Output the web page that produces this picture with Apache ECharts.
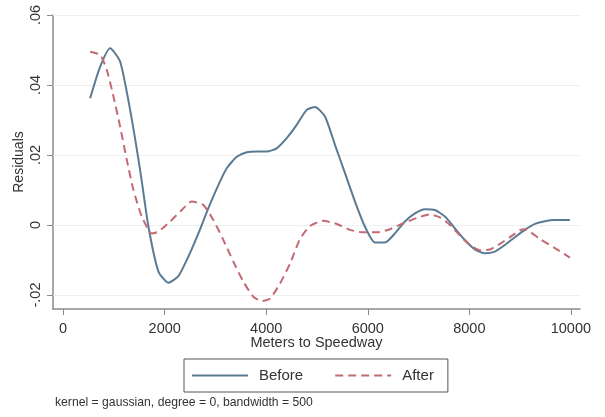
<!DOCTYPE html>
<html>
<head>
<meta charset="utf-8">
<script src="https://cdn.jsdelivr.net/npm/echarts@6/dist/echarts.min.js"></script>
<style>
html,body{margin:0;padding:0;background:#fff;}
#chart{width:605px;height:417px;}
</style>
</head>
<body>
<div id="chart"></div>
<script>
// Data (meters to speedway, residuals)
var beforeX = [531,728,925,1122,1319,1516,1680,1877,2073,2270,2467,2664,2860,3057,3222,3419,3616,3812,4009,4206,4403,4600,4797,4961,5157,5354,5551,5748,5945,6142,6339,6535,6732,6929,7126,7323,7520,7717,7913,8110,8307,8504,8701,8898,9094,9291,9488,9685,9980];
var beforeY = [0.0362,0.0452,0.0505,0.0467,0.0329,0.0157,-0.0005,-0.0133,-0.0165,-0.0146,-0.0090,-0.0024,0.0048,0.0114,0.0162,0.0195,0.0208,0.0210,0.0210,0.0219,0.0248,0.0286,0.0329,0.0337,0.0310,0.0229,0.0148,0.0067,-0.0005,-0.0050,-0.0050,-0.0024,0.0010,0.0033,0.0045,0.0043,0.0024,-0.0010,-0.0043,-0.0070,-0.0081,-0.0076,-0.0057,-0.0035,-0.0014,0.0003,0.0011,0.0014,0.0014];
var afterX = [531,728,860,991,1122,1254,1385,1549,1746,1877,2106,2336,2533,2762,2959,3156,3353,3550,3746,3911,4075,4272,4469,4665,4862,5124,5388,5650,5911,6175,6437,6699,6963,7224,7421,7618,7815,8012,8209,8406,8602,8799,8996,9094,9390,9685,9980];
var afterY = [0.0495,0.0486,0.0443,0.0367,0.0281,0.0186,0.0100,0.0024,-0.0024,-0.0019,0.0010,0.0043,0.0067,0.0057,0.0014,-0.0043,-0.0105,-0.0162,-0.0205,-0.0217,-0.0210,-0.0167,-0.0110,-0.0040,-0.0003,0.0012,0.0003,-0.0014,-0.0021,-0.0021,-0.0012,0.0005,0.0020,0.0030,0.0022,0.0000,-0.0030,-0.0057,-0.0072,-0.0070,-0.0054,-0.0035,-0.0015,-0.0012,-0.0040,-0.0066,-0.0093];
var xTicks = [0,2000,4000,6000,8000,10000];
var yTicks = [-0.02,0,0.02,0.04,0.06];
var seriesNames = ['Before','After'];
var xTitle = 'Meters to Speedway';
var yTitle = 'Residuals';
var note = 'kernel = gaussian, degree = 0, bandwidth = 500';

function zip(a,b){ return a.map(function(v,i){ return [v,b[i]]; }); }
function fmtY(v){
  if (Math.abs(v) < 1e-9) return '0';
  var s = v.toFixed(2);
  return s.replace('0.', '.');
}
var FONT = 'Liberation Sans';
var chart = echarts.init(document.getElementById('chart'));
chart.setOption({
  animation: false,
  backgroundColor: '#fff',
  textStyle: {fontFamily: FONT},
  grid: {left: 53, right: 25, top: 15, bottom: 108},
  xAxis: {
    type: 'value', min: -200, max: 10180,
    name: xTitle, nameLocation: 'middle', nameGap: 26, nameMoveOverlap: false,
    nameTextStyle: {fontFamily: FONT, fontSize: 14.5, color: '#333'},
    axisLine: {show: true, onZero: false, lineStyle: {color: '#8a8a8a', width: 1.5}},
    axisTick: {show: true, customValues: xTicks, length: 6, lineStyle: {color: '#8a8a8a'}},
    axisLabel: {customValues: xTicks, fontFamily: FONT, fontSize: 14.5, color: '#333', margin: 12,
      formatter: function(v){ return String(v); }},
    splitLine: {show: false}
  },
  yAxis: {
    type: 'value', min: -0.024, max: 0.06,
    name: yTitle, nameLocation: 'middle', nameGap: 27, nameRotate: 90, nameMoveOverlap: false,
    nameTextStyle: {fontFamily: FONT, fontSize: 14, color: '#333'},
    axisLine: {show: true, onZero: false, lineStyle: {color: '#8a8a8a', width: 1.5}},
    axisTick: {show: true, customValues: yTicks, length: 6, lineStyle: {color: '#8a8a8a'}},
    axisLabel: {customValues: yTicks, rotate: 90, fontFamily: FONT, fontSize: 14.5, color: '#333', margin: 10, formatter: fmtY},
    splitLine: {show: false}
  },
  legend: {
    data: seriesNames,
    left: 184, top: 359,
    orient: 'horizontal',
    itemWidth: 56, itemHeight: 14, itemGap: 31,
    padding: [9, 14, 9, 7],
    borderColor: '#555', borderWidth: 1,
    itemStyle: {opacity: 0},
    textStyle: {fontFamily: FONT, fontSize: 15, color: '#333', padding: [0,0,0,6]}
  },
  graphic: [{
    type: 'text', left: 55, top: 397,
    style: {text: note, font: '12.2px "Liberation Sans"', fill: '#333'}
  }],
  series: [
    {
      name: seriesNames[0], type: 'line', data: zip(beforeX, beforeY),
      showSymbol: false, symbol: 'none', smooth: 0.2,
      lineStyle: {color: '#5a7b94', width: 2},
      itemStyle: {color: '#5a7b94'},
      z: 3,
      markLine: {
        silent: true, symbol: 'none', label: {show: false},
        lineStyle: {color: '#eef0f0', width: 1, type: 'solid'},
        data: yTicks.map(function(v){ return {yAxis: v}; }),
        z: 1
      }
    },
    {
      name: seriesNames[1], type: 'line', data: zip(afterX, afterY),
      showSymbol: false, symbol: 'none', smooth: 0.2,
      lineStyle: {color: '#c46a72', width: 2, type: [8, 5]},
      itemStyle: {color: '#c46a72'},
      z: 4
    }
  ]
});
</script>
</body>
</html>
